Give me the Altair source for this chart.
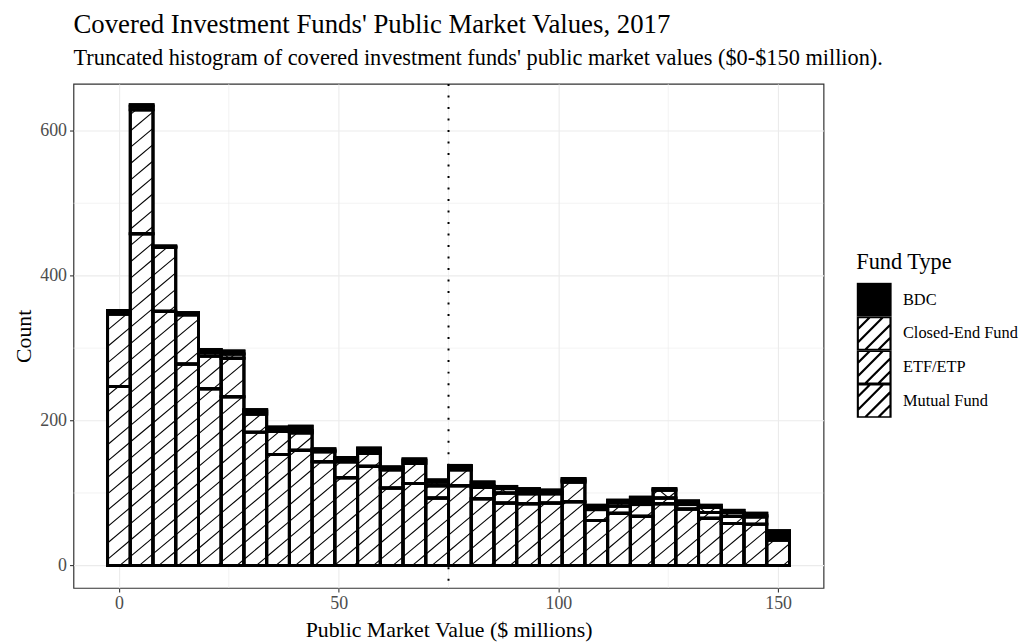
import math
import altair as alt
import pandas as pd

# ---------------- data ----------------
FUND_TYPES = ["BDC", "Closed-End Fund", "ETF/ETP", "Mutual Fund"]
BIN_CENTERS = [0.00, 5.17, 10.34, 15.52, 20.69, 25.86, 31.03, 36.21, 41.38, 46.55,
               51.72, 56.90, 62.07, 67.24, 72.41, 77.59, 82.76, 87.93, 93.10, 98.28,
               103.45, 108.62, 113.79, 118.97, 124.14, 129.31, 134.48, 139.66, 144.83, 150.00]
BIN_WIDTH = 5.1724
MUTUAL = [247, 458, 351, 278, 244, 233, 184, 153, 159, 143,
          121, 137, 107, 113, 93, 110, 92, 86, 85, 86,
          88, 62, 72, 68, 85, 78, 65, 58, 57, 35]
ETF = [100, 171, 88, 68, 45, 53, 25, 32, 24, 14,
       22, 18, 25, 28, 17, 22, 16, 14, 14, 13,
       27, 15, 10, 16, 8, 6, 8, 10, 10, 1]
CEF = [3, 5, 1, 1, 5, 6, 4, 3, 3, 2,
       2, 4, 3, 4, 5, 4, 2, 6, 4, 2,
       3, 4, 5, 2, 11, 2, 7, 5, 2, 0]
BDC = [2, 2, 1, 2, 4, 4, 2, 3, 6, 2,
       4, 3, 1, 2, 3, 2, 5, 3, 3, 3,
       2, 2, 3, 8, 2, 3, 3, 3, 3, 12]
X_TICKS = [0, 50, 100, 150]
Y_TICKS = [0, 200, 400, 600]
X_MINOR = [25, 75, 125]
Y_MINOR = [100, 300, 500]
CUTOFF = [75]

# ---------------- layout / style ----------------
PLOT_W, PLOT_H = 756, 508
X_DOMAIN = [-10.34, 160.34]
Y_DOMAIN = [-31.1, 664.8]
FONT = "Liberation Serif"
HATCH_ANGLE = 40
HATCH_SPACING = 16.5

stack_order = [("Mutual Fund", MUTUAL), ("ETF/ETP", ETF),
               ("Closed-End Fund", CEF), ("BDC", BDC)]
rows = []
for i, c in enumerate(BIN_CENTERS):
    base = 0
    for name, vals in stack_order:
        v = vals[i]
        if v > 0:
            rows.append(dict(type=name, x0=c - BIN_WIDTH / 2, x1=c + BIN_WIDTH / 2,
                             y0=base, y1=base + v, count=v))
        base += v
seg = pd.DataFrame(rows)

# hatch lines (computed from segments, in data units)
kx = PLOT_W / (X_DOMAIN[1] - X_DOMAIN[0])
ky = PLOT_H / (Y_DOMAIN[1] - Y_DOMAIN[0])
slope = math.tan(math.radians(HATCH_ANGLE))


def px(x):
    return (x - X_DOMAIN[0]) * kx


def py(y):
    return (y - Y_DOMAIN[0]) * ky


def dxv(p):
    return X_DOMAIN[0] + p / kx


def dyv(p):
    return Y_DOMAIN[0] + p / ky


hatch = []
for r in rows:
    if r["type"] == "BDC":
        continue
    a, b, p, q = px(r["x0"]), px(r["x1"]), py(r["y0"]), py(r["y1"])
    dirs = [1, -1] if r["type"] == "Closed-End Fund" else [1]
    for d in dirs:
        m = slope * d
        cs = [p - m * a, p - m * b, q - m * a, q - m * b]
        nlo = math.ceil(min(cs) / HATCH_SPACING)
        nhi = math.floor(max(cs) / HATCH_SPACING)
        for n in range(nlo, nhi + 1):
            cc = n * HATCH_SPACING
            xp = (p - cc) / m
            xq = (q - cc) / m
            lo = max(a, min(xp, xq))
            hi = min(b, max(xp, xq))
            if hi - lo > 0.8:
                hatch.append(dict(hx=dxv(lo), hy=dyv(cc + m * lo),
                                  hx2=dxv(hi), hy2=dyv(cc + m * hi)))
hatch_df = pd.DataFrame(hatch)

x_scale = alt.Scale(domain=X_DOMAIN, nice=False, zero=False)
y_scale = alt.Scale(domain=Y_DOMAIN, nice=False, zero=False)
x_axis = alt.Axis(values=X_TICKS, title="Public Market Value ($ millions)", grid=True,
                  titlePadding=7)
y_axis = alt.Axis(values=Y_TICKS, title="Count", grid=True, titlePadding=4)

minor_x = alt.Chart(pd.DataFrame({"v": X_MINOR})).mark_rule(
    color="#EBEBEB", strokeWidth=0.6).encode(x=alt.X("v:Q", scale=x_scale, axis=x_axis))
minor_y = alt.Chart(pd.DataFrame({"v": Y_MINOR})).mark_rule(
    color="#EBEBEB", strokeWidth=0.6).encode(y=alt.Y("v:Q", scale=y_scale, axis=y_axis))

cut = alt.Chart(pd.DataFrame({"v": CUTOFF})).mark_rule(
    color="black", strokeWidth=2, strokeDash=[2, 9.6]).encode(
    x=alt.X("v:Q", scale=x_scale, axis=x_axis))

LEGEND_PATH = ("M-1,-1H1V1H-1Z M-1,-0.25L-0.25,-1 M-1,0.55L0.55,-1 "
               "M-0.55,1L1,-0.55 M0.25,1L1,0.25")

fill_scale = alt.Scale(domain=FUND_TYPES, range=["#000000", "#FFFFFF", "#FFFFFF", "#FFFFFF"])

bars = alt.Chart(seg).mark_bar(stroke="black", strokeWidth=3).encode(
    x=alt.X("x0:Q", scale=x_scale, axis=x_axis),
    x2="x1:Q",
    y=alt.Y("y0:Q", scale=y_scale, axis=y_axis),
    y2="y1:Q",
    fill=alt.Fill("type:N", scale=fill_scale, legend=alt.Legend(
        title="Fund Type", orient="none", legendX=789, legendY=169,
        symbolType=LEGEND_PATH, symbolSize=1089, symbolStrokeColor="black",
        symbolStrokeWidth=2.2, rowPadding=0, clipHeight=34, labelFontSize=16.5,
        labelFont=FONT, titleFont=FONT, titleFontSize=22.5, titleFontWeight="normal",
        labelOffset=11, titlePadding=9, labelColor="black", titleColor="black",
        labelLimit=300)),
)

hatch_layer = alt.Chart(hatch_df).mark_rule(color="black", strokeWidth=1.1).encode(
    x=alt.X("hx:Q", scale=x_scale, axis=x_axis),
    y=alt.Y("hy:Q", scale=y_scale, axis=y_axis),
    x2="hx2:Q",
    y2="hy2:Q",
)

outline = alt.Chart(seg).mark_bar(fillOpacity=0, stroke="black", strokeWidth=3).encode(
    x=alt.X("x0:Q", scale=x_scale, axis=x_axis),
    x2="x1:Q",
    y=alt.Y("y0:Q", scale=y_scale, axis=y_axis),
    y2="y1:Q",
)

chart = alt.layer(minor_x, minor_y, cut, bars, hatch_layer, outline).properties(
    width=PLOT_W, height=PLOT_H,
    autosize=alt.AutoSizeParams(type="none"),
    padding={"left": 66, "top": 74, "right": 199, "bottom": 52},
    title=alt.TitleParams(
        text="Covered Investment Funds' Public Market Values, 2017",
        subtitle="Truncated histogram of covered investment funds' public market values ($0-$150 million).",
        anchor="start", frame="group", font=FONT, fontSize=27, fontWeight="normal",
        color="black", subtitleFont=FONT, subtitleFontSize=22.5, subtitleColor="black",
        offset=13, subtitlePadding=8),
).configure_view(stroke="#333333", strokeWidth=1.2).configure_axis(
    domain=False, labelFont=FONT, titleFont=FONT, labelFontSize=18, titleFontSize=22,
    labelColor="#4D4D4D", titleColor="black", titleFontWeight="normal",
    tickColor="#333333", tickSize=4, tickWidth=1.1, gridColor="#EBEBEB",
    gridWidth=1.1, labelPadding=3)

chart.save("out.html", embed_options={"renderer": "svg", "actions": False})
